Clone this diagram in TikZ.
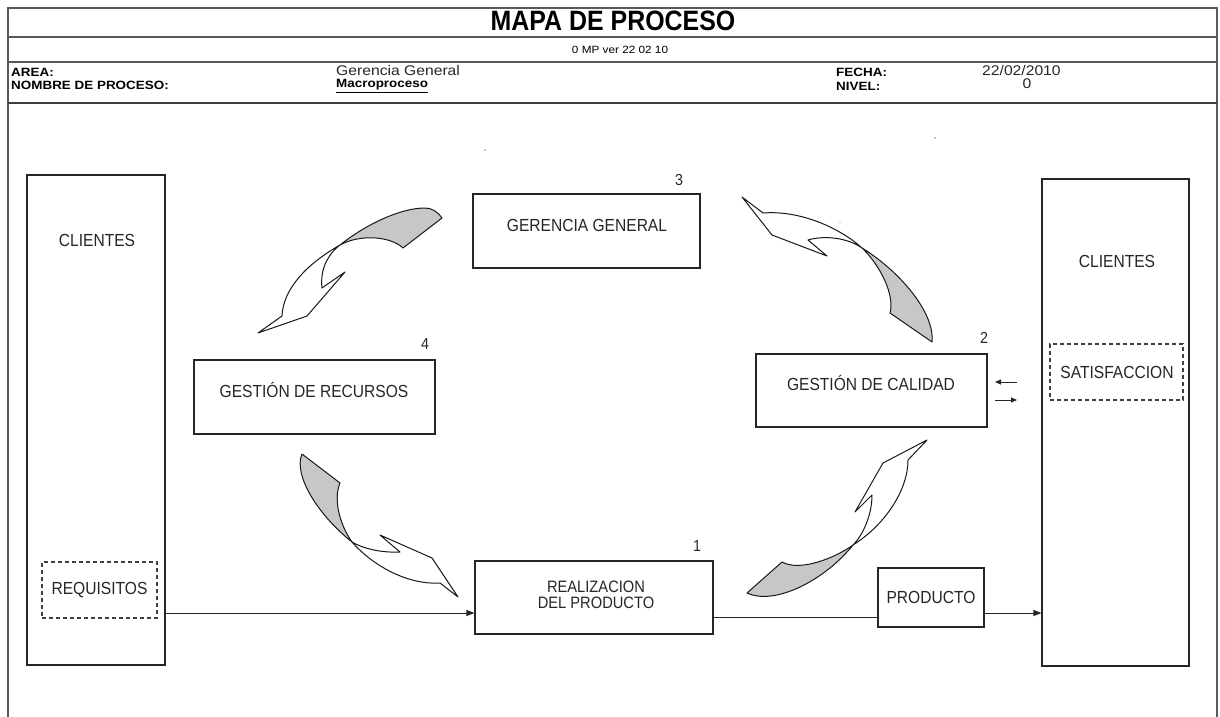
\documentclass[tikz,border=0pt]{standalone}
\usepackage{fontspec}
\setmainfont{Liberation Sans}[FakeStretch=0.89]
\newfontfamily\hdfont{Liberation Sans}[FakeStretch=1.12]
\usetikzlibrary{arrows.meta}
\newcommand\fsz[1]{\fontsize{#1}{#1}\selectfont}
\begin{document}
\begin{tikzpicture}[x=1pt,y=-1pt,
  frameline/.style={draw=black!65,line width=2pt},
  sepline/.style={draw=black!65,line width=1.4pt},
  box/.style={draw=black!85,line width=1.1pt,fill=white,inner sep=0pt},
  dbox/.style={draw=black!75,line width=1.1pt,dash pattern=on 4pt off 3pt,inner sep=0pt},
  txt/.style={inner sep=0pt,text=black!85,font=\fsz{17.5}},
  num/.style={inner sep=0pt,text=black!85,font=\fsz{16}},
  head/.style={inner sep=0pt,anchor=west,text=black,font=\hdfont\bfseries\fsz{12}},
  headval/.style={inner sep=0pt,anchor=west,text=black!85,font=\hdfont\fsz{14}},
  flow/.style={draw=black!85,line width=1pt,-{Triangle[length=8pt,width=6pt]}},
  plain/.style={draw=black!85,line width=1pt},
  bendwhite/.style={draw=black!90,line width=1pt,fill=white,line join=round},
  bendgrey/.style={draw=black!90,line width=1pt,fill=black!22,line join=round}]
\useasboundingbox (0,0) rectangle (1220,717);

% page frame and header rows
\draw[frameline] (8,717) -- (8,8) -- (1217,8) -- (1217,717);
\draw[sepline] (8,37) -- (1217,37);
\draw[sepline] (8,62) -- (1217,62);
\draw[draw=black!75,line width=2.4pt] (8,103) -- (1217,103);

\node[inner sep=0pt,font=\bfseries\fsz{28}] (title) at (613,21) {MAPA DE PROCESO};
\node[inner sep=0pt,font=\hdfont\fsz{10.5}] (ver) at (620,50) {0 MP ver 22 02 10};
\node[head] (area) at (11,72) {AREA:};
\node[head] (nombre) at (11,85) {NOMBRE DE PROCESO:};
\node[headval] (areaval) at (336,70) {Gerencia General};
\node[head] (nombreval) at (336,86) {\underline{Macroproceso}};
\node[head] (fecha) at (836,72) {FECHA:};
\node[head] (nivel) at (836,86) {NIVEL:};
\node[headval] (fechaval) at (982,70) {22/02/2010};
\node[headval,anchor=center] (nivelval) at (1027,84) {0};

% stray specks on the sheet
\fill[black!45] (485,150) circle (0.8) (935,138) circle (0.8) (840,222) circle (0.7);

% customer columns
\node[box,minimum width=138,minimum height=490] (cliL) at (96,420) {};
\node[txt] (cliLt) at (97,240) {CLIENTES};
\node[dbox,minimum width=115,minimum height=56] (req) at (99.5,590) {};
\node[txt] (reqt) at (99.5,590) {REQUISITOS};

\node[box,minimum width=147,minimum height=487] (cliR) at (1115.5,422.5) {};
\node[txt] (cliRt) at (1117,261) {CLIENTES};
\node[dbox,minimum width=133,minimum height=56] (sat) at (1116.5,372) {};
\node[txt] (satt) at (1117,372) {SATISFACCION};

% process boxes
\node[box,minimum width=227,minimum height=74] (gg) at (586.5,231) {};
\node[txt] (ggt) at (587,225) {GERENCIA GENERAL};
\node[num] (n3) at (679,180) {3};

\node[box,minimum width=241,minimum height=74] (rec) at (314.5,397) {};
\node[txt] (rect) at (314,390) {GESTIÓN DE RECURSOS};
\node[num] (n4) at (425,344) {4};

\node[box,minimum width=231,minimum height=73] (cal) at (871.5,390.5) {};
\node[txt] (calt) at (871,383) {GESTIÓN DE CALIDAD};
\node[num] (n2) at (984,338) {2};

\node[box,minimum width=238,minimum height=73] (real) at (594,597.5) {};
\node[txt,align=center,font={\fontsize{16.5}{15.5}\selectfont}] (realt) at (596,595) {REALIZACION\\DEL PRODUCTO};
\node[num] (n1) at (697,546) {1};

\node[box,minimum width=106,minimum height=59] (prod) at (931,597.5) {};
\node[txt] (prodt) at (931,597) {PRODUCTO};

% flow lines
\coordinate (ya) at (0,613);
\coordinate (yb) at (0,617);
\draw[flow] (cliL.east |- ya) -- (real.west |- ya);
\draw[plain] (real.east |- yb) -- (prod.west |- yb);
\draw[flow] (prod.east |- ya) -- (cliR.west |- ya);

% exchange arrows beside quality management
\coordinate (xin) at (1017,382);
\coordinate (xout) at (995,400);
\draw[flow,-{Triangle[length=6pt,width=5pt]}] (xin) -- (xin -| xout);
\draw[flow,-{Triangle[length=6pt,width=5pt]}] (xout) -- (xout -| xin);

% twisted cycle arrows
% recursos <- gerencia
\filldraw[bendgrey] (340,245) .. controls (365,225) and (400,208) .. (425,208)
  .. controls (432,208) and (438,212) .. (442,218) -- (403,248)
  .. controls (390,236) and (360,234) .. (340,245) -- cycle;
\filldraw[bendwhite] (340,245) .. controls (305,265) and (283,290) .. (282,316)
  -- (258,333) -- (307,316) -- (345,272) -- (322,288)
  .. controls (320,270) and (327,255) .. (340,245) -- cycle;

% gerencia -> calidad
\filldraw[bendwhite] (862,248) .. controls (840,228) and (800,210) .. (763,213)
  -- (742,197) -- (772,235) -- (827,256) -- (808,240)
  .. controls (825,235) and (848,238) .. (862,248) -- cycle;
\filldraw[bendgrey] (862,248) .. controls (895,268) and (935,310) .. (932,342)
  -- (890,313) .. controls (895,295) and (880,265) .. (862,248) -- cycle;

% recursos -> realizacion
\filldraw[bendgrey] (302,454) .. controls (293,475) and (318,515) .. (352,542)
  .. controls (340,525) and (333,500) .. (340,483) -- cycle;
\filldraw[bendwhite] (352,542) .. controls (375,568) and (410,585) .. (440,583)
  -- (458,597) -- (432,558) -- (380,535) -- (400,552)
  .. controls (380,553) and (362,548) .. (352,542) -- cycle;

% realizacion -> calidad
\filldraw[bendgrey] (747,593) .. controls (775,606) and (825,580) .. (853,545)
  .. controls (835,558) and (800,572) .. (782,562) -- cycle;
\filldraw[bendwhite] (853,545) .. controls (885,525) and (908,490) .. (908,460)
  -- (927,440) -- (883,463) -- (855,512) -- (872,495)
  .. controls (872,515) and (863,535) .. (853,545) -- cycle;
\end{tikzpicture}
\end{document}
